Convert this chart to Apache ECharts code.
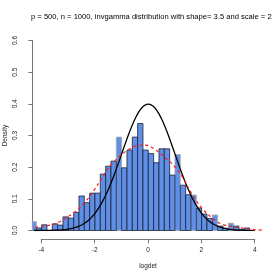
<!DOCTYPE html>
<html>
<head>
<meta charset="utf-8">
<script src="https://cdn.jsdelivr.net/npm/echarts@6/dist/echarts.min.js"></script>
<style>html,body{margin:0;padding:0;background:#fff;}#c{width:280px;height:280px;}</style>
</head>
<body>
<div id="c"></div>
<script>
// histogram bin edges (width 0.2)
var binEdges = [-4.4,-4.2,-4.0,-3.8,-3.6,-3.4,-3.2,-3.0,-2.8,-2.6,-2.4,-2.2,-2.0,-1.8,-1.6,-1.4,-1.2,-1.0,-0.8,-0.6,-0.4,-0.2,0.0,0.2,0.4,0.6,0.8,1.0,1.2,1.4,1.6,1.8,2.0,2.2,2.4,2.6,2.8,3.0,3.2,3.4,3.6,3.8,4.0];
// densities of bars drawn with dark border
var densityMain = [null,0.008,0.018,0,0.021,0.017,0.043,0.039,0.057,0.109,0.088,0.118,0.118,0.178,0.203,0.219,null,0.198,0.254,0.295,0.338,0.254,0.243,0.214,0.258,0.258,0.175,null,0.143,0.113,null,0.071,0.052,0.038,null,0.014,0.007,null,0.014,0.004,0.008,0];
// densities of bars drawn with light border
var densityLight = [0.028,null,null,null,null,null,null,null,null,null,null,null,null,null,null,null,0.295,null,null,null,null,null,null,null,null,null,null,0.240,null,null,0.112,null,null,null,0.049,null,null,0.023,null,null,null,null];
// standard normal curve (black)
var normX = [-4.3,-4.0,-3.75,-3.5,-3.25,-3.0,-2.75,-2.5,-2.25,-2.0,-1.75,-1.5,-1.25,-1.0,-0.75,-0.5,-0.25,0.0,0.25,0.5,0.75,1.0,1.25,1.5,1.75,2.0,2.25,2.5,2.75,3.0,3.25,3.5,3.75,3.9];
var normY = [0.0000,0.0001,0.0004,0.0009,0.0020,0.0044,0.0091,0.0175,0.0317,0.0540,0.0863,0.1295,0.1826,0.2420,0.3011,0.3521,0.3867,0.3989,0.3867,0.3521,0.3011,0.2420,0.1826,0.1295,0.0863,0.0540,0.0317,0.0175,0.0091,0.0044,0.0020,0.0009,0.0004,0.0002];
// fitted density (red dashed)
var fitX = [-4.25,-4.0,-3.5,-3.0,-2.6,-2.2,-1.9,-1.5,-1.0,-0.5,-0.2,0.0,0.3,0.6,0.9,1.2,1.5,1.9,2.3,2.7,3.1,3.5,4.0,4.3];
var fitY = [0.010,0.013,0.021,0.044,0.070,0.107,0.144,0.196,0.240,0.266,0.270,0.268,0.253,0.232,0.210,0.180,0.135,0.082,0.046,0.022,0.013,0.008,0.003,0.001];
// axis ticks
var xTicks = [-4,-2,0,2,4];
var yTicks = [0,0.1,0.2,0.3,0.4,0.5,0.6];

var histMain = [], histLight = [];
for (var i = 0; i < binEdges.length - 1; i++) {
  if (densityMain[i] !== null) histMain.push([binEdges[i], binEdges[i+1], densityMain[i]]);
  if (densityLight[i] !== null) histLight.push([binEdges[i], binEdges[i+1], densityLight[i]]);
}
function pairs(xs, ys){ return xs.map(function(x,i){ return [x, ys[i]]; }); }

function makeRender(stroke){
  return function(params, api){
    var p0 = api.coord([api.value(0), api.value(2)]);
    var p1 = api.coord([api.value(1), 0]);
    var cs = params.coordSys;
    var x0 = Math.max(p0[0], cs.x), x1 = Math.min(p1[0], cs.x + cs.width);
    return {type:'rect', shape:{x:x0, y:p0[1], width:x1-x0, height:p1[1]-p0[1]},
      style:{fill:'#5f8fe6', stroke:stroke, lineWidth:0.8}};
  };
}

var chart = echarts.init(document.getElementById('c'), null, {renderer:'canvas'});
var font = 'Liberation Sans, Arial, Helvetica, sans-serif';
chart.setOption({
  animation:false,
  title:{text:'p = 500, n = 1000, invgamma distribution with shape= 3.5 and scale = 2',
    left:26, top:8,
    textStyle:{fontSize:7.6, fontWeight:'normal', color:'#000', fontFamily:font}},
  grid:[
    {left:32.3, right:15.7, top:40.5, bottom:49.5, containLabel:false, outerBoundsMode:'none'},
    {left:41.3, right:25.3, top:40.5, bottom:49.5, containLabel:false, outerBoundsMode:'none'}
  ],
  xAxis:[
    {type:'value', gridIndex:0, min:-4.35, max:4.35, show:false},
    {type:'value', gridIndex:1, min:xTicks[0], max:xTicks[xTicks.length-1], interval:2, offset:8.8,
     axisLine:{show:true, onZero:false, lineStyle:{color:'#555', width:0.8}},
     axisTick:{show:true, length:4, lineStyle:{color:'#555', width:0.8}},
     axisLabel:{fontSize:6.5, color:'#222', margin:7, fontFamily:font},
     splitLine:{show:false},
     name:'logdet', nameLocation:'middle', nameGap:23, nameMoveOverlap:false,
     nameTextStyle:{fontSize:6.5, color:'#222', fontFamily:font}}
  ],
  yAxis:[
    {type:'value', gridIndex:0, min:yTicks[0], max:yTicks[yTicks.length-1], interval:0.1,
     axisLine:{show:true, onZero:false, lineStyle:{color:'#555', width:0.8}},
     axisTick:{show:true, length:4, lineStyle:{color:'#555', width:0.8}},
     axisLabel:{fontSize:6.5, color:'#222', rotate:90, margin:14, fontFamily:font,
       formatter:function(v){return v.toFixed(1);}},
     splitLine:{show:false},
     name:'Density', nameLocation:'middle', nameGap:24, nameMoveOverlap:false,
     nameTextStyle:{fontSize:6.5, color:'#222', fontFamily:font}},
    {type:'value', gridIndex:1, min:0, max:0.6, show:false}
  ],
  series:[
    {type:'custom', xAxisIndex:0, yAxisIndex:0, data:histLight, renderItem:makeRender('#a8a8a8'), z:2},
    {type:'custom', xAxisIndex:0, yAxisIndex:0, data:histMain, renderItem:makeRender('#1c2333'), z:3},
    {type:'line', xAxisIndex:0, yAxisIndex:0, data:pairs(normX, normY), smooth:0.3, showSymbol:false, symbol:'none',
     lineStyle:{color:'#000', width:1.3}, z:4},
    {type:'line', xAxisIndex:0, yAxisIndex:0, data:pairs(fitX, fitY), smooth:0.3, showSymbol:false, symbol:'none',
     lineStyle:{color:'#ff1a1a', width:1.2, type:[3,3]}, z:5}
  ]
});
</script>
</body>
</html>
